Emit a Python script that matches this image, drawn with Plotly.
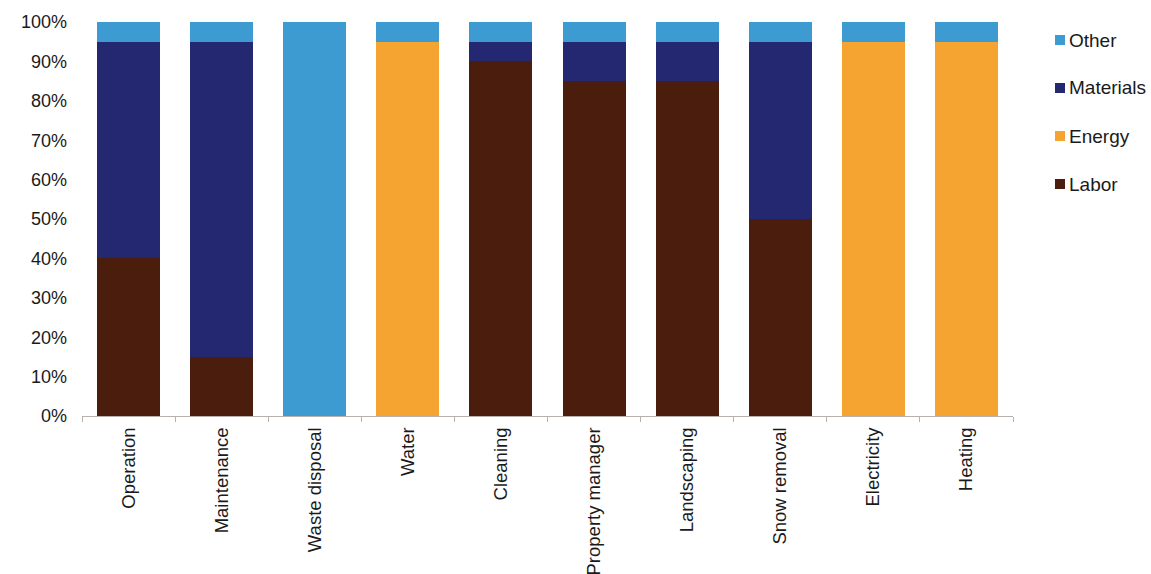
import plotly.graph_objects as go

# Cost categories and the share of each cost component (fractions of 1)
categories = ["Operation", "Maintenance", "Waste disposal", "Water", "Cleaning",
              "Property manager", "Landscaping", "Snow removal", "Electricity", "Heating"]
labor = [0.40, 0.15, 0.00, 0.00, 0.90, 0.85, 0.85, 0.50, 0.00, 0.00]
energy = [0.00, 0.00, 0.00, 0.95, 0.00, 0.00, 0.00, 0.00, 0.95, 0.95]
materials = [0.55, 0.80, 0.00, 0.00, 0.05, 0.10, 0.10, 0.45, 0.00, 0.00]
other = [0.05, 0.05, 1.00, 0.05, 0.05, 0.05, 0.05, 0.05, 0.05, 0.05]

y_ticks = [0, 0.1, 0.2, 0.3, 0.4, 0.5, 0.6, 0.7, 0.8, 0.9, 1.0]

series = [
    ("Labor", labor, "#4b1d0d"),
    ("Energy", energy, "#f6a431"),
    ("Materials", materials, "#232870"),
    ("Other", other, "#3d9bd1"),
]

FONT = "Liberation Sans, Arial, sans-serif"
TEXT = "#1a1a1a"

fig = go.Figure()
for name, vals, color in series:
    fig.add_trace(go.Bar(x=categories, y=vals, name=name,
                         marker=dict(color=color, line=dict(width=0)),
                         showlegend=False))

# Legend drawn as small squares with labels, top entry = top of the stack
legend_entries = list(reversed(series))
shapes = []
annotations = []
for i, (name, _, color) in enumerate(legend_entries):
    yc = 40 + 48 * i
    shapes.append(dict(type="rect", xref="paper", yref="paper",
                       x0=(1055 - 82) / 931, x1=(1065 - 82) / 931,
                       y0=(416 - (yc + 5)) / 394, y1=(416 - (yc - 5)) / 394,
                       fillcolor=color, line=dict(width=0)))
    annotations.append(dict(text=name, xref="paper", yref="paper",
                            x=(1067 - 82) / 931, y=(416 - yc) / 394,
                            xanchor="left", yanchor="middle", showarrow=False,
                            font=dict(family=FONT, size=19, color=TEXT)))

fig.update_layout(
    barmode="stack",
    bargap=0.323,
    width=1151, height=574,
    margin=dict(l=82, r=138, t=22, b=158, autoexpand=False),
    paper_bgcolor="white", plot_bgcolor="white",
    font=dict(family=FONT, size=18, color=TEXT),
    shapes=shapes,
    annotations=annotations,
    xaxis=dict(
        type="category",
        tickangle=-90,
        automargin=False,
        showline=True, linecolor="#b8b0ac", linewidth=1,
        ticks="outside", tickson="boundaries", ticklen=5, tickcolor="#b8b0ac",
        ticklabelstandoff=3,
        showgrid=False,
        tickfont=dict(family=FONT, size=18.5, color=TEXT),
    ),
    yaxis=dict(
        range=[0, 1.0],
        tickvals=y_ticks,
        tickformat=".0%",
        automargin=False,
        showgrid=False, zeroline=False, showline=False,
        ticks="", ticklabelstandoff=14,
        tickfont=dict(family=FONT, size=18, color=TEXT),
    ),
)

fig.write_html("out.html")
